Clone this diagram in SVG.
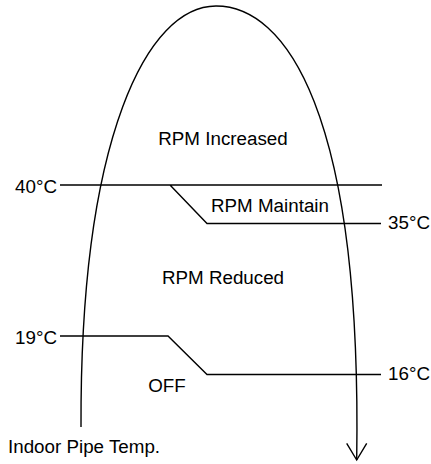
<svg xmlns="http://www.w3.org/2000/svg" width="431" height="464" viewBox="0 0 431 464">
<style>
.ln{fill:none;stroke:#000;stroke-width:1.4;stroke-linejoin:miter}
.t{font-family:"Liberation Sans",Arial,sans-serif;font-size:18.8px;fill:#000}
.m{text-anchor:middle}
</style>
<defs>
<marker id="arr" markerUnits="userSpaceOnUse" markerWidth="24" markerHeight="24" refX="12" refY="20" orient="0" viewBox="0 0 24 24">
<path d="M2,3.3 L12,20 L22,3.3" fill="none" stroke="#000" stroke-width="1.4"/>
</marker>
</defs>
<rect width="431" height="464" fill="#fff"/>
<g id="connectors">
<path id="curve" class="ln" d="M81,427 C80,135 148,6 216,6 C285,6 362,110 356.7,460" marker-end="url(#arr)"/>
<path id="line-40-35" class="ln" d="M60,185 H382 M170,185 L207,223.5 H381"/>
<path id="line-19-16" class="ln" d="M60,336 H168 L207,374.5 H381"/>
</g>
<g id="node-increased"><text class="t m" x="223" y="145">RPM Increased</text></g>
<g id="node-maintain"><text class="t m" x="270" y="212">RPM Maintain</text></g>
<g id="node-reduced"><text class="t m" x="223" y="284">RPM Reduced</text></g>
<g id="node-off"><text class="t m" x="167" y="392">OFF</text></g>
<g id="label-40"><text class="t" x="15" y="193">40°C</text></g>
<g id="label-35"><text class="t" x="388" y="229">35°C</text></g>
<g id="label-19"><text class="t" x="15" y="344">19°C</text></g>
<g id="label-16"><text class="t" x="388" y="380">16°C</text></g>
<g id="label-axis"><text class="t" x="8" y="453">Indoor Pipe Temp.</text></g>
</svg>
